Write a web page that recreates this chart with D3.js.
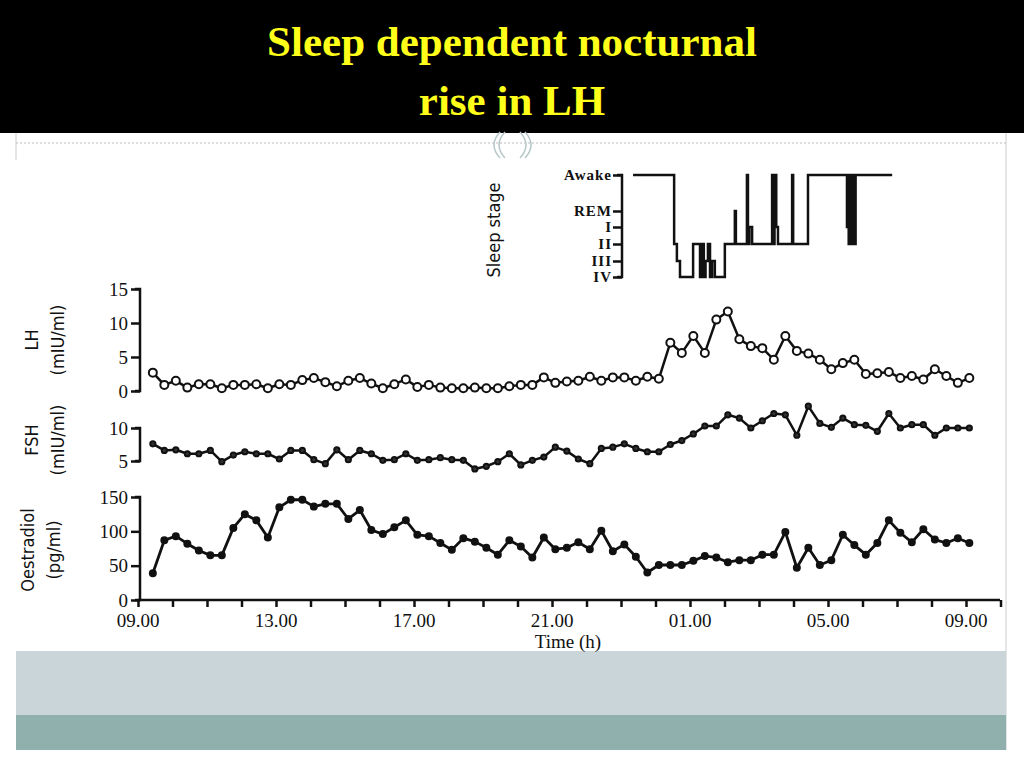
<!DOCTYPE html>
<html><head><meta charset="utf-8">
<script src="https://cdnjs.cloudflare.com/ajax/libs/d3/7.8.5/d3.min.js"></script>
<style>
body{margin:0;background:#fff;}
svg{display:block;}
.tk{font-family:"Liberation Serif","Times New Roman",serif;font-size:19px;fill:#111;}
.lab{font-family:"Liberation Sans Narrow","DejaVu Sans Condensed","Liberation Sans",Arial,sans-serif;font-size:18px;fill:#111;}
</style></head>
<body>
<svg id="chart" width="1024" height="768"></svg>
<script>
// sampling times: every 20 min starting 09:26 (hours after 09:00)
var t0 = 0.43;
var lhValues = [2.7,0.9,1.5,0.5,1.0,1.0,0.4,0.9,0.9,1.0,0.4,1.0,0.9,1.6,1.9,1.3,0.7,1.5,1.9,1.1,0.4,1.0,1.7,0.6,0.9,0.5,0.4,0.4,0.5,0.4,
  0.4,0.7,0.9,0.9,2.0,1.2,1.4,1.5,2.1,1.5,2.0,2.0,1.5,2.1,1.8,7.1,5.6,8.1,5.6,10.5,11.7,7.6,6.6,6.3,4.6,8.1,5.9,5.5,4.6,3.2,4.1,4.6,2.5,2.6,2.8,1.9,2.2,1.7,3.2,2.2,1.2,1.9];
var fshValues = [7.6,6.6,6.7,6.1,6.1,6.6,4.9,5.9,6.4,6.1,6.1,5.3,6.6,6.6,5.2,4.6,6.7,5.2,6.6,6.1,5.1,5.2,6.1,5.1,5.2,5.5,5.2,5.1,3.8,4.2,
  4.9,6.1,4.4,5.1,5.6,7.1,6.5,5.3,4.6,6.9,7.1,7.6,6.9,6.4,6.4,7.5,8.1,9.1,10.3,10.3,12.0,11.5,10.0,11.1,12.2,12.0,8.9,13.3,10.7,10.1,11.5,10.5,10.4,9.5,12.2,10.0,10.5,10.5,8.9,10.0,10.0,10.0];
var e2Values = [39,87,93,82,72,65,65,105,125,116,91,135,146,146,136,140,140,118,131,102,96,106,116,95,93,83,73,90,85,76,66,87,78,62,91,74,76,84,74,101,71,81,63,40,51,51,51,57,64,62,55,58,58,66,66,99,47,76,51,58,95,80,66,83,116,98,84,103,88,83,90,83];
// hypnogram steps: [hours after 09:00, stage index]
var sleepSteps = [[14.35,0],[15.54,3],[15.62,4],[15.71,5],[16.09,3],[16.29,5],[16.35,3],[16.40,5],[16.45,4],[16.52,3],[16.58,5],[16.64,4],[16.72,5],[17.01,3],[17.30,1],[17.33,3],[17.65,0],[17.68,3],[17.72,2],[17.80,3],[18.38,0],[18.42,3],[18.45,0],[18.50,2],[18.55,3],[18.96,0],[18.99,3],[19.42,0],[20.55,2],[20.60,3],[20.62,0],[20.66,3],[20.70,0],[20.75,3],[20.80,0],[21.86,0]];
var stageLabels = ["Awake","REM","I","II","III","IV"];
var timeLabels = ["09.00","13.00","17.00","21.00","01.00","05.00","09.00"];

var svg = d3.select("#chart");

// slide frame
svg.append("rect").attr("x",0).attr("y",0).attr("width",1024).attr("height",133).attr("fill","#000");
[["Sleep dependent nocturnal",56],["rise in LH",115]].forEach(function(t){
  svg.append("text").attr("x",512).attr("y",t[1]).attr("text-anchor","middle")
    .style("font-family","Liberation Serif,serif").style("font-weight","bold").style("font-size","43px").attr("fill","#ffff1a")
    .text(t[0]);
});
svg.append("line").attr("x1",16).attr("x2",1006).attr("y1",143).attr("y2",143).attr("stroke","#bbb").attr("stroke-dasharray","2,2");
svg.append("line").attr("x1",16).attr("x2",16).attr("y1",133).attr("y2",160).attr("stroke","#ccc");
svg.append("line").attr("x1",1006).attr("x2",1006).attr("y1",133).attr("y2",750).attr("stroke","#ccc");
svg.append("path").attr("d","M500,132 Q488,145 500,158 M505,132 Q493,145 505,158 M520,132 Q532,145 520,158 M525,132 Q537,145 525,158")
  .attr("fill","none").attr("stroke","#b8c8c8").attr("stroke-width",1.5);
svg.append("rect").attr("x",16).attr("y",651).attr("width",990).attr("height",64).attr("fill","#c9d5d9");
svg.append("rect").attr("x",16).attr("y",715).attr("width",990).attr("height",35).attr("fill","#8fb0ac");

var x = d3.scaleLinear().domain([0,24]).range([138,966]);
var times = lhValues.map(function(d,i){ return t0 + i/3; });

var yLH = d3.scaleLinear().domain([0,15]).range([391,289]);
var yFSH = d3.scaleLinear().domain([5,10]).range([461,428]);
var yE2 = d3.scaleLinear().domain([0,150]).range([600,497]);
var yStage = d3.scaleLinear().domain([0,1,2,3,4,5]).range([175,211,227,244,261,277]);

function yAxis(scale, ticks, xpos){
  var g = svg.append("g").attr("transform","translate("+xpos+",0)")
    .call(d3.axisLeft(scale).tickValues(ticks).tickSize(9).tickFormat(d3.format("d")));
  g.select(".domain").attr("stroke","#111").attr("stroke-width",2.5).attr("d","M-5,"+scale.range()[1]+"H0V"+scale.range()[0]+"H-5");
  g.selectAll(".tick line").attr("stroke","#111").attr("stroke-width",2.5);
  g.selectAll(".tick text").attr("class","tk").attr("font-family",null).attr("font-size",null);
  return g;
}
yAxis(yLH,[0,5,10,15],140);
yAxis(yFSH,[5,10],140);
yAxis(yE2,[0,50,100,150],140);

// sleep stage axis
var gs = svg.append("g").attr("transform","translate(622,0)")
  .call(d3.axisLeft(yStage).tickValues([0,1,2,3,4,5]).tickSize(9).tickFormat(function(d){ return stageLabels[d]; }));
gs.select(".domain").attr("stroke","#111").attr("stroke-width",2.5).attr("d","M-5,175H0V277H-5");
gs.selectAll(".tick line").attr("stroke","#111").attr("stroke-width",2.5);
gs.selectAll(".tick text").attr("class","tk").attr("font-family",null).attr("font-size",null)
  .style("font-size","15px").style("font-weight","bold").style("letter-spacing","1px").attr("x",-10);

// time axis
var gx = svg.append("g").attr("transform","translate(0,600)")
  .call(d3.axisBottom(x).tickValues(d3.range(0,25.1,1)).tickSize(7).tickFormat(""));
gx.select(".domain").attr("stroke","#111").attr("stroke-width",2.5).attr("d","M138,0H1000");
gx.selectAll(".tick line").attr("stroke","#111").attr("stroke-width",2.5);
timeLabels.forEach(function(l,i){
  svg.append("text").attr("class","tk").attr("x",x(i*4)).attr("y",627).attr("text-anchor","middle").text(l);
});
svg.append("text").attr("class","tk").attr("x",568).attr("y",648).attr("text-anchor","middle").text("Time (h)");

// axis titles
function vlabel(txt, xp, yp){
  svg.append("text").attr("class","lab").attr("transform","translate("+xp+","+yp+") rotate(-90)")
    .attr("text-anchor","middle").text(txt);
}
vlabel("LH",38,340); vlabel("(mIU/ml)",64,340);
vlabel("FSH",38,440); vlabel("(mIU/ml)",64,440);
vlabel("Oestradiol",34,550); vlabel("(pg/ml)",60,550);
vlabel("Sleep stage",500,230);

// series
function series(vals, y, r, fill, sw){
  var pts = vals.map(function(v,i){ return [x(times[i]), y(v)]; });
  svg.append("path").attr("d", d3.line()(pts)).attr("fill","none").attr("stroke","#111").attr("stroke-width",sw).attr("stroke-linejoin","round");
  svg.append("g").selectAll("circle").data(pts).join("circle")
    .attr("cx",function(d){return d[0];}).attr("cy",function(d){return d[1];})
    .attr("r",r).attr("fill",fill).attr("stroke","#111").attr("stroke-width",2);
}
series(lhValues, yLH, 4, "#fff", 2.5);
series(fshValues, yFSH, 2.6, "#333", 2.5);
series(e2Values, yE2, 3, "#111", 2.8);

// hypnogram
svg.append("path")
  .attr("d", d3.line().x(function(d){return x(d[0]);}).y(function(d){return yStage(d[1]);}).curve(d3.curveStepAfter)(sleepSteps))
  .attr("fill","none").attr("stroke","#111").attr("stroke-width",2.5);
</script>
</body></html>
